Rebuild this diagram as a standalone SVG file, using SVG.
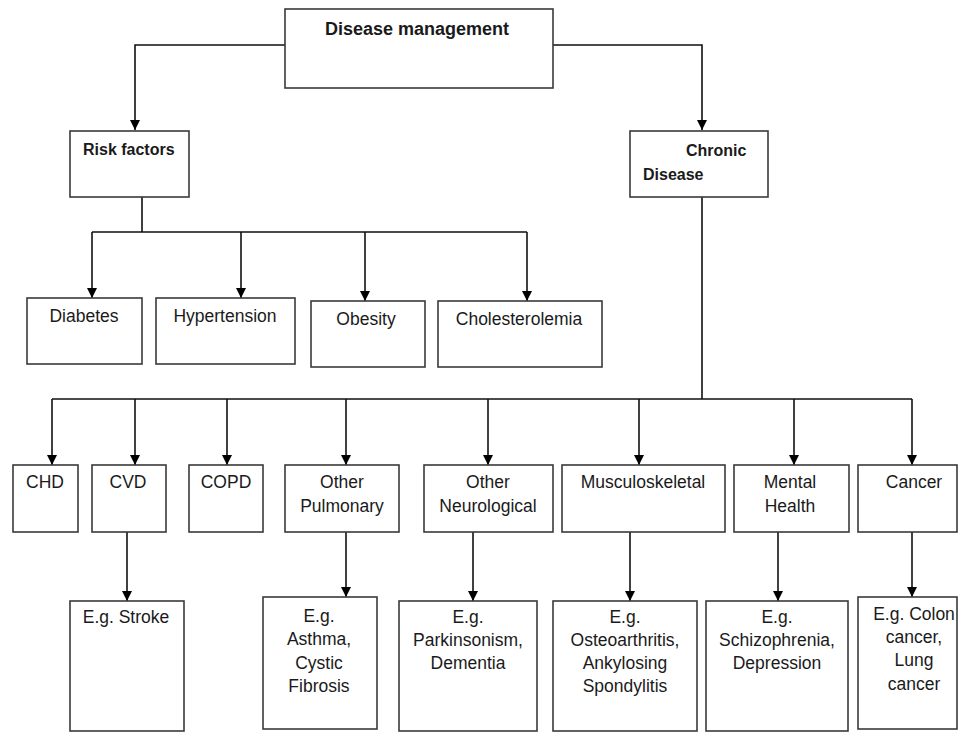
<svg xmlns="http://www.w3.org/2000/svg" width="961" height="733" viewBox="0 0 961 733">
<defs>
<marker id="arr" viewBox="0 0 10 10" refX="10" refY="5" markerWidth="11" markerHeight="10" markerUnits="userSpaceOnUse" orient="auto">
<path d="M0,0 L10,5 L0,10 z" fill="#000"/>
</marker>
<style>
rect{fill:#fff;stroke:#3a3a3a;stroke-width:1.6}
text{font-family:"Liberation Sans",Arial,sans-serif;font-size:17.5px;fill:#1a1a1a}
.c{text-anchor:middle}
.b{font-weight:bold;font-size:16px}
.conn path{fill:none;stroke:#111;stroke-width:1.6}
.a{marker-end:url(#arr)}
</style>
</defs>
<rect x="0" y="0" width="961" height="733" style="fill:#fff;stroke:none"/>
<g class="conn">
<path class="a" d="M285,45 H135 V130"/>
<path class="a" d="M553,45 H702 V130"/>
<path d="M142,197 V232 M92,232 H527"/>
<path class="a" d="M92,232 V298"/>
<path class="a" d="M241,232 V298"/>
<path class="a" d="M365,232 V301"/>
<path class="a" d="M527,232 V301"/>
<path d="M702,197 V399 M52,399 H912"/>
<path class="a" d="M52,399 V465"/>
<path class="a" d="M135,399 V465"/>
<path class="a" d="M227,399 V465"/>
<path class="a" d="M346,399 V465"/>
<path class="a" d="M488,399 V465"/>
<path class="a" d="M639,399 V465"/>
<path class="a" d="M794,399 V465"/>
<path class="a" d="M912,399 V465"/>
<path class="a" d="M127,532 V601"/>
<path class="a" d="M346,532 V597"/>
<path class="a" d="M473,532 V601"/>
<path class="a" d="M630,532 V601"/>
<path class="a" d="M778,532 V601"/>
<path class="a" d="M912,532 V597"/>
</g>
<g id="disease-management"><rect x="285" y="9" width="268" height="79"/><text x="325" y="35" class="b" style="font-size:18px">Disease management</text></g>
<g id="risk-factors"><rect x="70" y="131" width="119" height="66"/><text x="83" y="155" class="b">Risk factors</text></g>
<g id="chronic-disease"><rect x="630" y="131" width="138" height="66"/><text x="686" y="156" class="b">Chronic</text><text x="643" y="180" class="b">Disease</text></g>
<g id="diabetes"><rect x="27" y="298" width="115" height="66"/><text x="84" y="322" class="c">Diabetes</text></g>
<g id="hypertension"><rect x="156" y="298" width="139" height="66"/><text x="225" y="322" class="c">Hypertension</text></g>
<g id="obesity"><rect x="311" y="301" width="114" height="66"/><text x="366" y="325" class="c">Obesity</text></g>
<g id="cholesterolemia"><rect x="438" y="301" width="164" height="66"/><text x="519" y="325" class="c">Cholesterolemia</text></g>
<g id="chd"><rect x="13" y="465" width="65" height="67"/><text x="45" y="488" class="c">CHD</text></g>
<g id="cvd"><rect x="92" y="465" width="74" height="67"/><text x="128" y="488" class="c">CVD</text></g>
<g id="copd"><rect x="189" y="465" width="74" height="67"/><text x="226" y="488" class="c">COPD</text></g>
<g id="other-pulmonary"><rect x="285" y="465" width="114" height="67"/><text x="342" y="488" class="c">Other</text><text x="342" y="512" class="c">Pulmonary</text></g>
<g id="other-neurological"><rect x="424" y="465" width="129" height="67"/><text x="488" y="488" class="c">Other</text><text x="488" y="512" class="c">Neurological</text></g>
<g id="musculoskeletal"><rect x="562" y="465" width="163" height="67"/><text x="643" y="488" class="c">Musculoskeletal</text></g>
<g id="mental-health"><rect x="734" y="465" width="115" height="67"/><text x="790" y="488" class="c">Mental</text><text x="790" y="512" class="c">Health</text></g>
<g id="cancer"><rect x="858" y="465" width="99" height="67"/><text x="914" y="488" class="c">Cancer</text></g>
<g id="eg-stroke"><rect x="70" y="601" width="114" height="130"/><text x="126" y="623" class="c">E.g. Stroke</text></g>
<g id="eg-asthma"><rect x="263" y="597" width="114" height="132"/><text x="319" y="622" class="c">E.g.</text><text x="319" y="645" class="c">Asthma,</text><text x="319" y="669" class="c">Cystic</text><text x="319" y="692" class="c">Fibrosis</text></g>
<g id="eg-parkinsonism"><rect x="399" y="601" width="138" height="130"/><text x="468" y="623" class="c">E.g.</text><text x="468" y="646" class="c">Parkinsonism,</text><text x="468" y="669" class="c">Dementia</text></g>
<g id="eg-osteoarthritis"><rect x="553" y="601" width="144" height="130"/><text x="625" y="623" class="c">E.g.</text><text x="625" y="646" class="c">Osteoarthritis,</text><text x="625" y="669" class="c">Ankylosing</text><text x="625" y="692" class="c">Spondylitis</text></g>
<g id="eg-schizophrenia"><rect x="706" y="601" width="142" height="130"/><text x="777" y="623" class="c">E.g.</text><text x="777" y="646" class="c">Schizophrenia,</text><text x="777" y="669" class="c">Depression</text></g>
<g id="eg-colon-cancer"><rect x="858" y="597" width="99" height="132"/><text x="914" y="620" class="c">E.g. Colon</text><text x="914" y="643" class="c">cancer,</text><text x="914" y="666" class="c">Lung</text><text x="914" y="690" class="c">cancer</text></g>
</svg>
